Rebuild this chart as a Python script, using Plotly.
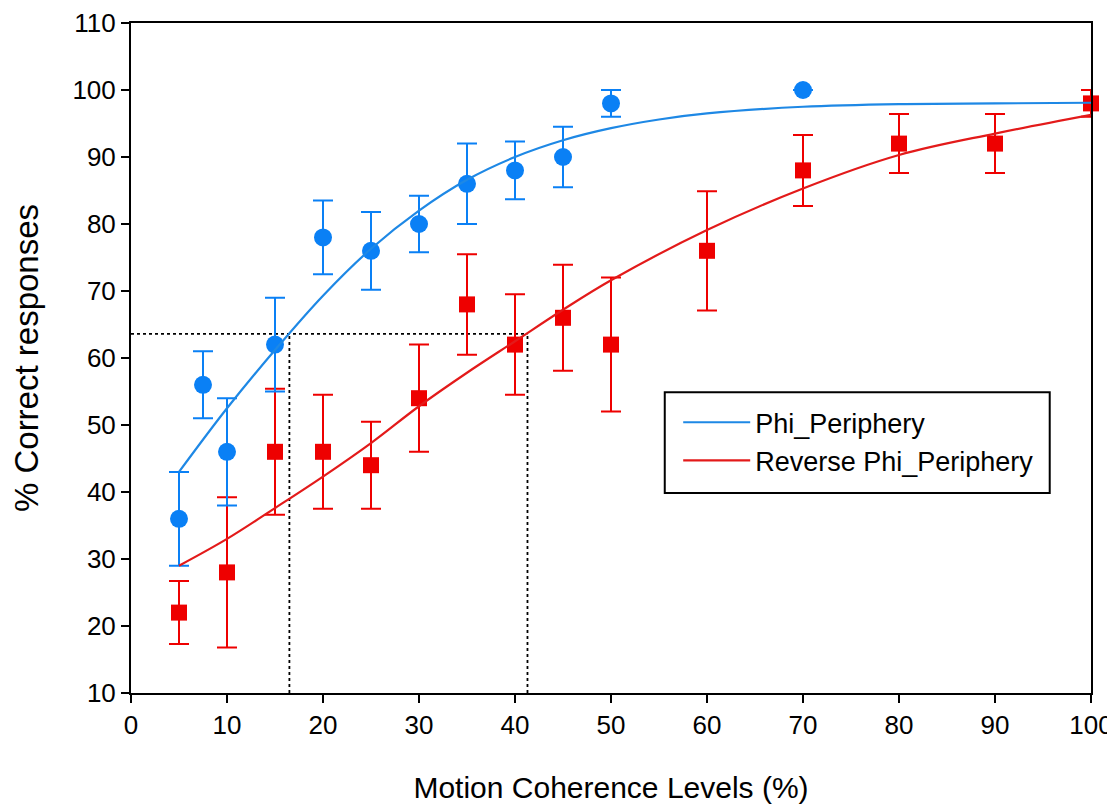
import plotly.graph_objects as go

phi_x = [5, 7.5, 10, 15, 20, 25, 30, 35, 40, 45, 50, 70]
phi_y = [36, 56, 46, 62, 78, 76, 80, 86, 88, 90, 98, 100]
phi_err = [7, 5, 8, 7, 5.5, 5.8, 4.2, 6, 4.3, 4.5, 2, None]

rev_x = [5, 10, 15, 20, 25, 30, 35, 40, 45, 50, 60, 70, 80, 90, 100]
rev_y = [22, 28, 46, 46, 44, 54, 68, 62, 66, 62, 76, 88, 92, 92, 98]
rev_err = [4.7, 11.2, 9.4, 8.5, 6.5, 8, 7.5, 7.5, 7.9, 10, 8.9, 5.3, 4.4, 4.4, 2]

# Fitted curves
phi_fit_x = [5, 10, 15, 20, 25, 30, 35, 40, 45, 50, 55, 60, 70, 80, 90, 100]
phi_fit_y = [43, 52.5, 61.2, 69.3, 76.3, 82.0, 86.6, 90, 92.5, 94.3, 95.6, 96.5, 97.5, 97.9, 98.0, 98.1]
rev_fit_x = [5, 10, 15, 20, 25, 30, 35, 40, 45, 50, 60, 70, 80, 90, 100]
rev_fit_y = [29, 33, 37.6, 42.3, 47.3, 52.8, 57.8, 62.5, 67.2, 71.6, 79.1, 85.3, 90.3, 93.5, 96.3]

# Threshold guide lines
thresh_y = 63.6
thresh_x_phi = 16.5
thresh_x_rev = 41.3
y_floor = 10

BLUE = "#0a80f5"
BLUE_LINE = "#1e88e5"
RED = "#ee0000"
RED_LINE = "#e31a1a"
FONT = "Liberation Sans, Arial, sans-serif"

fig = go.Figure()

# dotted guide lines
for xs, ys in [([0, thresh_x_rev], [thresh_y, thresh_y]),
               ([thresh_x_phi, thresh_x_phi], [y_floor, thresh_y]),
               ([thresh_x_rev, thresh_x_rev], [y_floor, thresh_y])]:
    fig.add_trace(go.Scatter(x=xs, y=ys, mode="lines",
                             line=dict(color="black", width=1.8, dash="dot"),
                             showlegend=False, hoverinfo="skip"))

# data points with error bars
fig.add_trace(go.Scatter(x=rev_x, y=rev_y, mode="markers",
                         marker=dict(symbol="square", size=16, color=RED),
                         error_y=dict(type="data", array=rev_err, color=RED, thickness=2, width=10),
                         showlegend=False, cliponaxis=False))
fig.add_trace(go.Scatter(x=phi_x, y=phi_y, mode="markers",
                         marker=dict(symbol="circle", size=18, color=BLUE),
                         error_y=dict(type="data", array=phi_err, color=BLUE, thickness=2, width=10),
                         showlegend=False, cliponaxis=False))

# fitted curves
fig.add_trace(go.Scatter(x=phi_fit_x, y=phi_fit_y, mode="lines", name="Phi_Periphery",
                         line=dict(color=BLUE_LINE, width=2.2, shape="spline"), cliponaxis=False))
fig.add_trace(go.Scatter(x=rev_fit_x, y=rev_fit_y, mode="lines", name="Reverse Phi_Periphery",
                         line=dict(color=RED_LINE, width=2.2, shape="spline"), cliponaxis=False))

axis_common = dict(showgrid=False, zeroline=False, showline=True, linecolor="black", linewidth=2,
                   mirror=True, ticks="outside", ticklen=8, tickwidth=2, tickcolor="black",
                   dtick=10, automargin=False,
                   tickfont=dict(family=FONT, size=26, color="black"))

# legend frame (drawn as a shape to match the reference's padding)
fig.add_shape(type="rect", xref="paper", yref="paper",
              x0=0.556, x1=0.957, y0=0.2985, y1=0.449,
              line=dict(color="black", width=2), fillcolor="white", layer="below")

# the page adds an 8px body margin, so the figure is offset to compensate
fig.update_layout(
    width=1107, height=798,
    margin=dict(l=123, r=24, t=15, b=113),
    paper_bgcolor="white", plot_bgcolor="white",
    font=dict(family=FONT, color="black"),
    xaxis=dict(range=[0, 100], tick0=0,
               title=dict(text="Motion Coherence Levels (%)", font=dict(size=30), standoff=38),
               **axis_common),
    yaxis=dict(range=[10, 110], tick0=10,
               title=dict(text="% Correct responses", font=dict(size=33), standoff=40),
               **axis_common),
    legend=dict(x=0.570, y=0.440, xanchor="left", yanchor="top",
                borderwidth=0, bgcolor="rgba(0,0,0,0)", itemwidth=67,
                font=dict(size=27, color="black"), tracegroupgap=0),
    showlegend=True,
)

fig.write_html("out.html")
